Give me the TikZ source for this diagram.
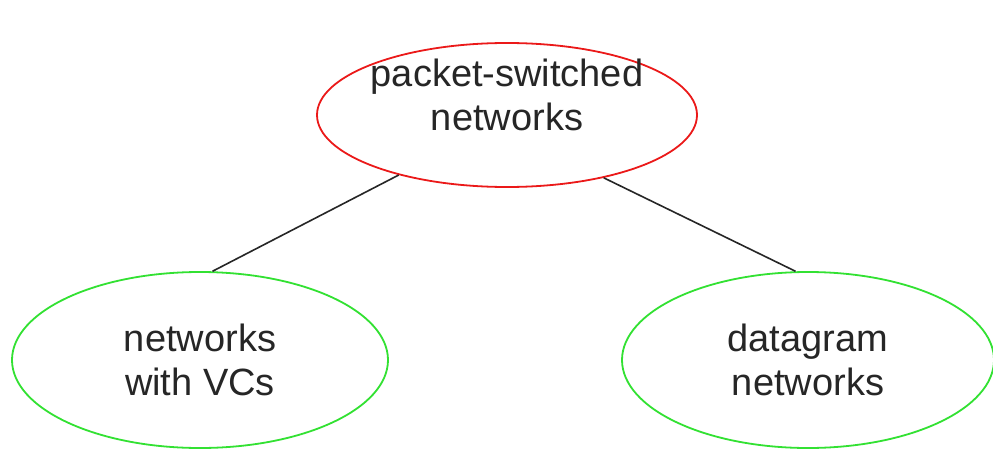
\documentclass[tikz,border=0pt]{standalone}
\usepackage{fontspec}
\setmainfont{Liberation Sans}
\usetikzlibrary{shapes.geometric}
\definecolor{ellred}{RGB}{235,25,25}
\definecolor{ellgreen}{RGB}{50,225,50}
\tikzset{
  ell/.style={ellipse, draw, line width=1.8pt, inner sep=0pt, fill=white},
  txt/.style={align=center, font=\fontsize{38pt}{44pt}\selectfont, text=black!85},
  conn/.style={draw=black!85, line width=1.6pt}
}
\begin{document}
\begin{tikzpicture}[x=1pt,y=1pt]
\useasboundingbox (0,0) rectangle (993,451);
\fill[white] (0,0) rectangle (993,451);
\node[ell, draw=ellred, minimum width=380pt, minimum height=144pt,
  label={[txt, yshift=20pt]center:packet-switched\\networks}] (top) at (507,336) {};
\node[ell, draw=ellgreen, minimum width=376pt, minimum height=176pt,
  label={[txt]center:networks\\with VCs}] (left) at (200,91) {};
\node[ell, draw=ellgreen, minimum width=372pt, minimum height=176pt,
  label={[txt]center:datagram\\networks}] (right) at (808,91) {};
\draw[conn] (top.209) -- (left.82);
\draw[conn] (top.327) -- (right.98);
\end{tikzpicture}
\end{document}
